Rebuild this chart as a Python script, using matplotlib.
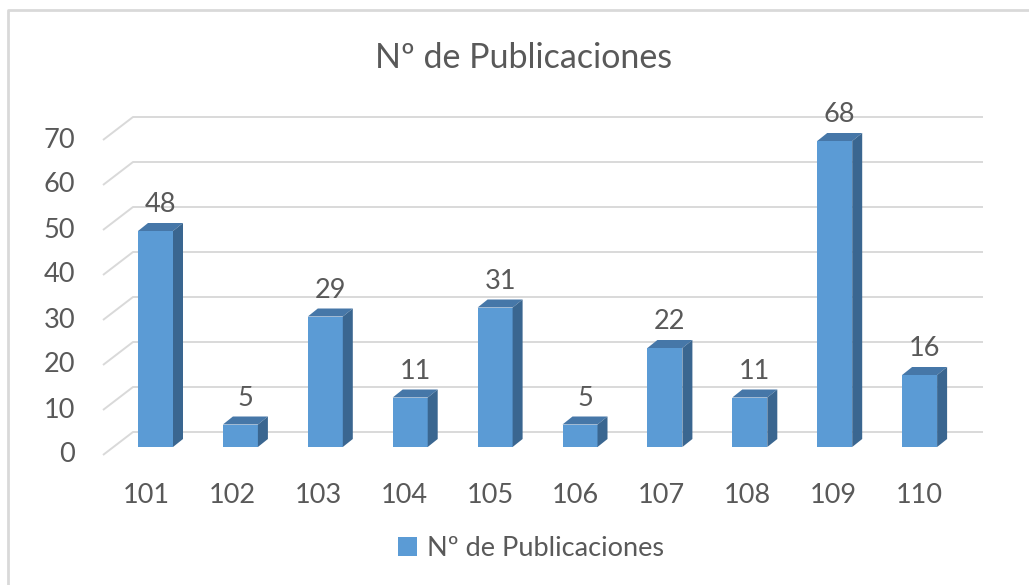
import matplotlib
matplotlib.use("Agg")
import matplotlib.pyplot as plt
from matplotlib.patches import Patch
from matplotlib.lines import Line2D

plt.rcParams["font.family"] = ["Lato", "DejaVu Sans"]

# Data
categories = ["101", "102", "103", "104", "105", "106", "107", "108", "109", "110"]
values = [48, 5, 29, 11, 31, 5, 22, 11, 68, 16]
series_name = "Nº de Publicaciones"
y_ticks = [0, 10, 20, 30, 40, 50, 60, 70]

# Colours
FRONT = "#5B9BD5"
TOP = "#4677A8"
SIDE = "#3A6690"
GRID = "#D9D9D9"
TEXT = "#595959"

W, H = 1029, 585
fig = plt.figure(figsize=(W / 100, H / 100), dpi=100)

# axes placed so that one category = ~85 px and one unit = 4.5 px
px_x, px_y = 84.9, 4.5
x0_px, y0_px = 155.5, 447
xlim = (-0.7, 9.8)
ylim = (-3, 75)
left = x0_px + xlim[0] * px_x
right = x0_px + xlim[1] * px_x
bottom = y0_px - ylim[0] * px_y
top = y0_px - ylim[1] * px_y
ax = fig.add_axes([left / W, (H - bottom) / H, (right - left) / W, (bottom - top) / H])
ax.set_xlim(*xlim)
ax.set_ylim(*ylim)
ax.axis("off")

# 3D offsets (data units)
bar_w = 35 / px_x
dx = 10 / px_x
dy = 8 / px_y
wall_dy = 15 / px_y          # back wall above the bar baseline
front_dy = -8 / px_y         # side-wall front edge below baseline
wall_x0 = (133 - x0_px) / px_x
front_x0 = (103 - x0_px) / px_x
wall_x1 = (983 - x0_px) / px_x

# gridlines: diagonal on side wall + horizontal on back wall
for v in y_ticks:
    ax.plot([front_x0, wall_x0, wall_x1],
            [v + front_dy, v + wall_dy, v + wall_dy],
            color=GRID, lw=1.4, zorder=1, solid_capstyle="butt")
    ax.text((75 - x0_px) / px_x, v + front_dy, str(v), ha="right", va="center",
            fontsize=19.5, color=TEXT)

# bars
xs = list(range(len(values)))
ax.bar(xs, values, width=bar_w, color=FRONT, zorder=3)
for x, v in zip(xs, values):
    l, r = x - bar_w / 2, x + bar_w / 2
    ax.fill([l, r, r + dx, l + dx], [v, v, v + dy, v + dy], color=TOP, zorder=3, lw=0)
    ax.fill([r, r + dx, r + dx, r], [0, dy, v + dy, v], color=SIDE, zorder=3, lw=0)
    ax.text(x + dx / 2, v + dy + 1.3, str(v), ha="center", va="bottom",
            fontsize=19.5, color=TEXT)

# category labels
for x, c in zip(xs, categories):
    ax.text(x - 0.11 * (1 - x / 9), -10.7, c, ha="center", va="center",
            fontsize=19.5, color=TEXT)

# title
fig.text(523.5 / W, 1 - 58 / H, series_name, ha="center", va="center",
         fontsize=24.5, color=TEXT)

# legend
fig.legend(handles=[Patch(facecolor=FRONT, edgecolor="none", label=series_name)],
           loc="center", bbox_to_anchor=(531 / W, 1 - 548 / H), frameon=False,
           fontsize=19.5, labelcolor=TEXT, handlelength=0.7, handleheight=0.7,
           handletextpad=0.4)

# chart border (left and top visible)
fig.add_artist(Line2D([8 / W, 8 / W, 1], [0, 1 - 10 / H, 1 - 10 / H],
                      transform=fig.transFigure, color="#D9D9D9", lw=2))

fig.savefig("out.png", dpi=100, facecolor="white")
